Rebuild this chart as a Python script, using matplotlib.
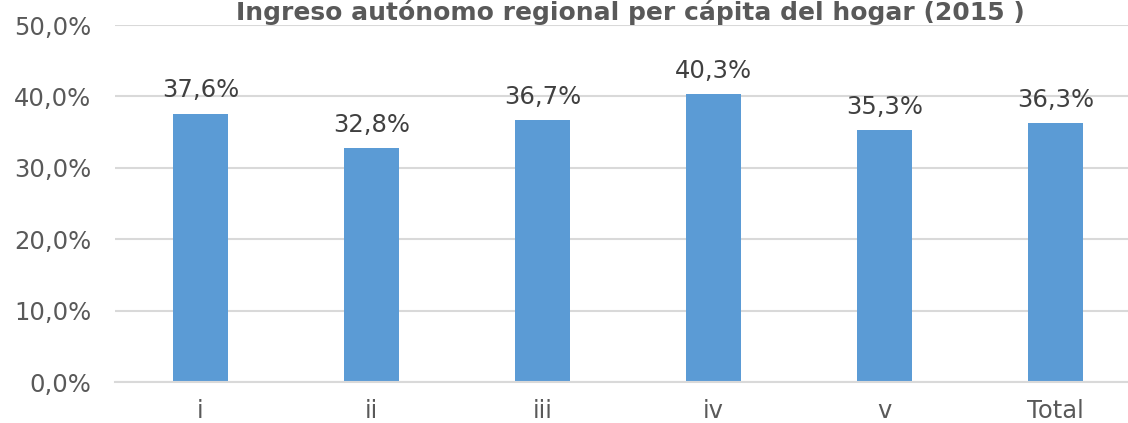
import matplotlib.pyplot as plt
from matplotlib.ticker import FuncFormatter

categorias = ['i', 'ii', 'iii', 'iv', 'v', 'Total']
valores = [0.376, 0.328, 0.367, 0.403, 0.353, 0.363]
titulo = 'Ingreso autónomo regional per cápita del hogar (2015 )'

plt.rcParams['font.family'] = ['DejaVu Sans']

fig = plt.figure(figsize=(11.28, 4.23), dpi=100)
ax = fig.add_axes([115 / 1128, 41 / 423, 1026 / 1128, 357 / 423])

x = range(len(categorias))
barras = ax.bar(x, valores, width=0.316, color='#5B9BD5', zorder=2)

for b, v in zip(barras, valores):
    ax.annotate(f'{v * 100:.1f}%'.replace('.', ','),
                (b.get_x() + b.get_width() / 2, v),
                xytext=(0, 8), textcoords='offset points',
                ha='center', va='bottom', fontsize=17.5, color='#404040')

ax.set_xlim(-0.5, len(categorias) - 0.5)
ax.set_ylim(0, 0.5)
ax.set_yticks([0, 0.1, 0.2, 0.3, 0.4, 0.5])
ax.yaxis.set_major_formatter(FuncFormatter(lambda y, p: f'{y * 100:.1f}%'.replace('.', ',')))
ax.set_xticks(list(x))
ax.set_xticklabels(categorias)
ax.tick_params(axis='both', length=0, labelsize=17.5, colors='#595959')
ax.tick_params(axis='y', pad=17)
ax.tick_params(axis='x', pad=12)

ax.grid(axis='y', color='#D9D9D9', linewidth=1.5, zorder=0)
for s in ['top', 'right', 'left']:
    ax.spines[s].set_visible(False)
ax.spines['bottom'].set_color('#D9D9D9')
ax.spines['bottom'].set_linewidth(1.5)

fig.text(630 / 1128, 1 - 20 / 423, titulo, ha='center', va='baseline',
         fontsize=18, fontweight='bold', color='#595959')

fig.savefig('out.png', dpi=100)
